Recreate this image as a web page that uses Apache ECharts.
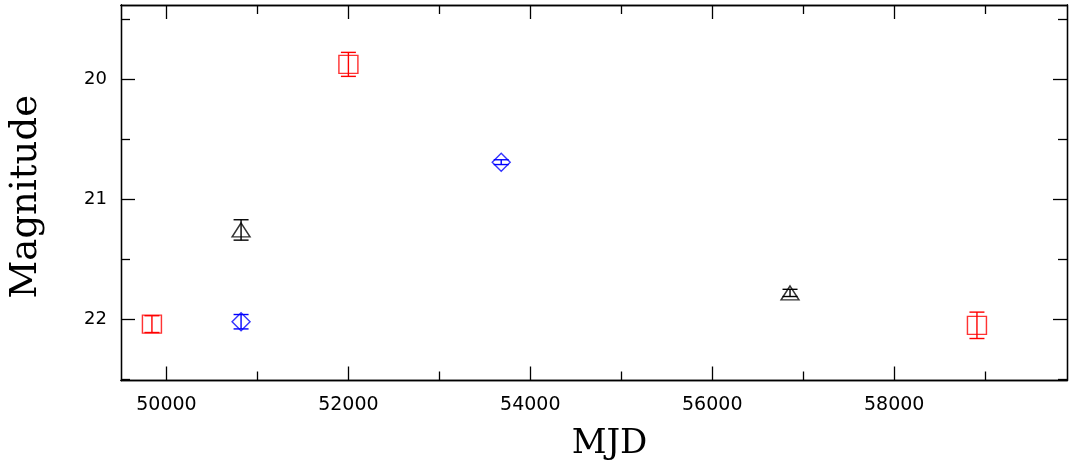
<!DOCTYPE html>
<html>
<head>
<meta charset="utf-8">
<script src="https://cdn.jsdelivr.net/npm/echarts@6/dist/echarts.min.js"></script>
<style>
  html, body { margin: 0; padding: 0; background: #fff; }
  #chart { width: 1072px; height: 462px; }
</style>
</head>
<body>
<div id="chart"></div>
<script>
// Light-curve points: MJD, magnitude and 1-sigma error per band
const redMjd   = [49840, 52000, 58910];
const redMag   = [22.04, 19.875, 22.05];
const redErr   = [0.07, 0.10, 0.11];

const blackMjd = [50820, 56855];
const blackMag = [21.255, 21.78];
const blackErr = [0.085, 0.03];

const blueMjd  = [50820, 53680];
const blueMag  = [22.02, 20.69];
const blueErr  = [0.06, 0.02];

// Axis ticks
const xMajorTicks = [50000, 52000, 54000, 56000, 58000];
const xMinorTicks = [51000, 53000, 55000, 57000, 59000];
const yMajorTicks = [20, 21, 22];
const yMinorTicks = [19.5, 20.5, 21.5, 22.5];

const X_MIN = 49500, X_MAX = 59900;
const Y_MIN = 19.38, Y_MAX = 22.51;

function points(xs, ys) { return xs.map((x, i) => [x, ys[i]]); }
function errPoints(xs, ys, es) { return xs.map((x, i) => [x, ys[i], es[i]]); }

function errorBars(color, data) {
  return {
    type: 'custom',
    xAxisIndex: 0,
    yAxisIndex: 0,
    data: data,
    silent: true,
    z: 3,
    renderItem: function (params, api) {
      const x = api.value(0), y = api.value(1), e = api.value(2);
      const top = api.coord([x, y - e]);
      const bot = api.coord([x, y + e]);
      const hw = 7.5;
      const st = { stroke: color, lineWidth: 1.4 };
      return {
        type: 'group',
        children: [
          { type: 'line', shape: { x1: top[0], y1: top[1], x2: bot[0], y2: bot[1] }, style: st },
          { type: 'line', shape: { x1: top[0] - hw, y1: top[1], x2: top[0] + hw, y2: top[1] }, style: st },
          { type: 'line', shape: { x1: bot[0] - hw, y1: bot[1], x2: bot[0] + hw, y2: bot[1] }, style: st }
        ]
      };
    }
  };
}

function hollow(color, symbol, size, data) {
  return {
    type: 'scatter',
    xAxisIndex: 0,
    yAxisIndex: 0,
    data: data,
    symbol: symbol,
    symbolSize: size,
    silent: true,
    z: 4,
    itemStyle: { color: 'rgba(0,0,0,0)', borderColor: color, borderWidth: 1.4 }
  };
}

const lineStyle = { color: '#000', width: 1.3 };
const plain = v => String(v);

function xAxisDef(position, ticks, len, labels) {
  return {
    type: 'value', position: position, min: X_MIN, max: X_MAX,
    axisLine: { show: true, onZero: false, lineStyle: lineStyle },
    axisTick: { show: true, inside: true, length: len, customValues: ticks, lineStyle: lineStyle },
    axisLabel: labels ? {
      show: true, customValues: ticks, margin: 15, color: '#000', formatter: plain,
      fontFamily: 'DejaVu Sans', fontSize: 19
    } : { show: false },
    splitLine: { show: false }
  };
}

function yAxisDef(position, ticks, len, labels) {
  return {
    type: 'value', position: position, min: Y_MIN, max: Y_MAX, inverse: true,
    axisLine: { show: true, onZero: false, lineStyle: lineStyle },
    axisTick: { show: true, inside: true, length: len, customValues: ticks, lineStyle: lineStyle },
    axisLabel: labels ? {
      show: true, customValues: ticks, margin: 14, color: '#000', formatter: plain,
      fontFamily: 'DejaVu Sans', fontSize: 18
    } : { show: false },
    splitLine: { show: false }
  };
}

const xMain = xAxisDef('bottom', xMajorTicks, 14, true);
xMain.name = 'MJD';
xMain.nameLocation = 'middle';
xMain.nameGap = 47;
xMain.nameTextStyle = { fontFamily: 'DejaVu Serif', fontSize: 34, color: '#000', padding: [0, 0, 0, 31] };

const yMain = yAxisDef('left', yMajorTicks, 14, true);
yMain.name = 'Magnitude';
yMain.nameLocation = 'middle';
yMain.nameGap = 76;
yMain.nameRotate = 90;
yMain.nameTextStyle = { fontFamily: 'DejaVu Serif', fontSize: 37, color: '#000', padding: [0, 8, 0, 0] };

const chart = echarts.init(document.getElementById('chart'), null, { renderer: 'canvas' });
chart.setOption({
  animation: false,
  backgroundColor: '#fff',
  grid: { left: 121, right: 5, top: 5, bottom: 81.5, containLabel: false, outerBoundsMode: 'none' },
  xAxis: [
    xMain,
    xAxisDef('bottom', xMinorTicks, 9, false),
    xAxisDef('top', xMajorTicks, 14, false),
    xAxisDef('top', xMinorTicks, 9, false)
  ],
  yAxis: [
    yMain,
    yAxisDef('left', yMinorTicks, 9, false),
    yAxisDef('right', yMajorTicks, 14, false),
    yAxisDef('right', yMinorTicks, 9, false)
  ],
  series: [
    errorBars('#ff0000', errPoints(redMjd, redMag, redErr)),
    hollow('#ff0000', 'rect', [19, 18], points(redMjd, redMag)),
    errorBars('#000000', errPoints(blackMjd, blackMag, blackErr)),
    hollow('#000000', 'triangle', [18, 14], points(blackMjd, blackMag)),
    errorBars('#0000ff', errPoints(blueMjd, blueMag, blueErr)),
    hollow('#0000ff', 'diamond', [18, 18], points(blueMjd, blueMag))
  ]
});
</script>
</body>
</html>
